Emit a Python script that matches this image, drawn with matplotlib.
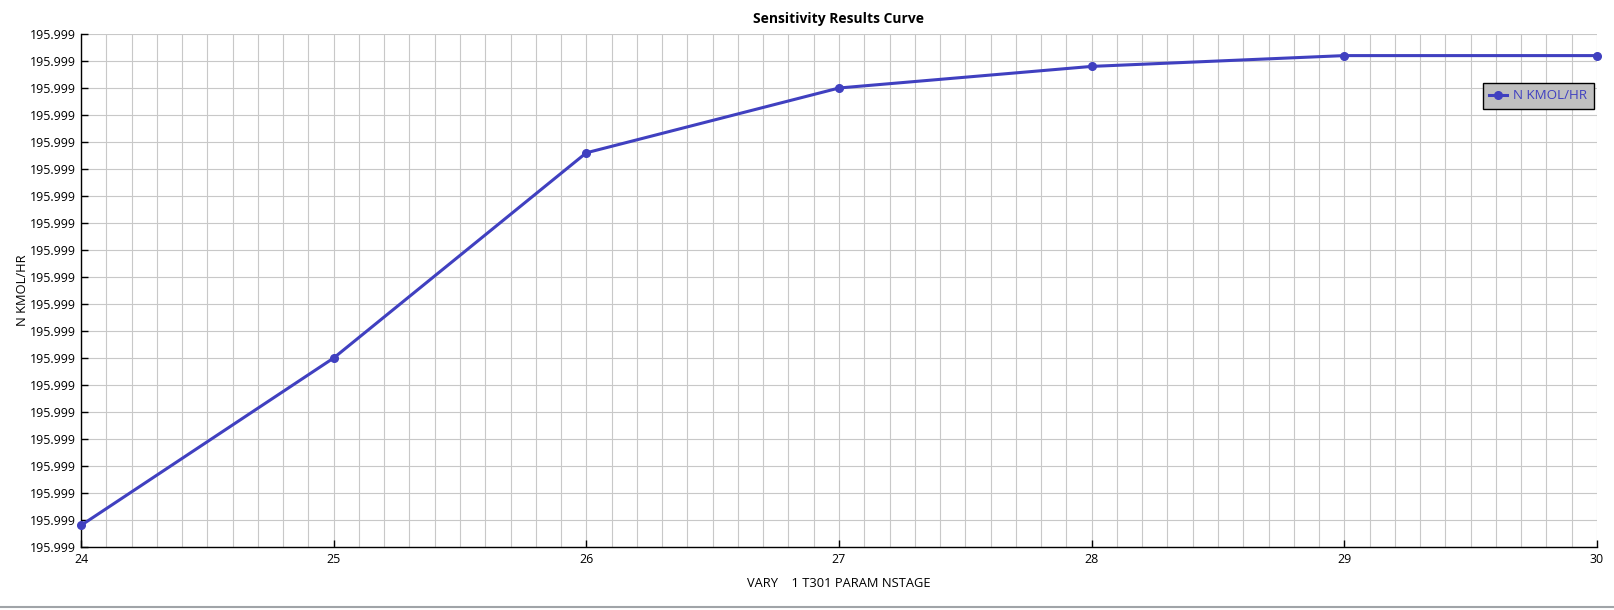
#! /usr/bin/env python3

import matplotlib
matplotlib.use("Agg")
import matplotlib.pyplot as plt
from matplotlib.lines import Line2D
from matplotlib.ticker import FormatStrFormatter, MultipleLocator

"""
Données lues sur la courbe.
"""

nstage = [24, 25, 26, 27, 28, 29, 30]
flow   = [195.999008, 195.999070, 195.999146, 195.999170,
          195.999178, 195.999182, 195.999182]   # en kmol/h

ymin, ymax, ystep = 195.99900, 195.99919, 0.00001

title  = "Sensitivity Results Curve"
xlabel = "VARY    1 T301 PARAM NSTAGE"
ylabel = "N KMOL/HR"
label  = "N KMOL/HR"

blue = "#4040c0"
grid = "#c8c8c8"

plt.rcParams["font.family"] = ["Open Sans", "DejaVu Sans"]

fig = plt.figure(figsize = (16.15, 6.10), dpi = 100)
ax = fig.add_axes([81 / 1615, 63 / 610, 1516 / 1615, 513 / 610])

ax.plot(nstage, flow, "-o", color = blue, lw = 2.2, ms = 5.5, label = label,
        clip_on = False, zorder = 3)

ax.set_xlim(nstage[0], nstage[-1])
ax.set_ylim(ymin, ymax)
ax.xaxis.set_major_locator(MultipleLocator(1))
ax.xaxis.set_minor_locator(MultipleLocator(0.1))
ax.yaxis.set_major_locator(MultipleLocator(ystep))
ax.yaxis.set_major_formatter(FormatStrFormatter("%.3f"))

ax.grid(which = "both", color = grid, lw = 0.8)
ax.set_axisbelow(True)
for side in ("top", "right"):
    ax.spines[side].set_visible(False)
for side in ("left", "bottom"):
    ax.spines[side].set_linewidth(1.0)

ax.tick_params(which = "major", direction = "in", length = 5, width = 1,
               labelsize = 8.9, pad = 4)
ax.tick_params(which = "minor", length = 0)

ax.set_title(title, fontsize = 10, fontweight = "bold", pad = 8)
ax.set_xlabel(xlabel, fontsize = 9.3, labelpad = 8)
ax.set_ylabel(ylabel, fontsize = 9.3, labelpad = 0)

leg = ax.legend(loc = "upper right", bbox_to_anchor = (0.998, 0.905),
                borderaxespad = 0, fancybox = False, framealpha = 1,
                facecolor = "#c0c0c0", edgecolor = "black", fontsize = 9.6,
                labelcolor = blue, handlelength = 1.3, handletextpad = 0.5,
                borderpad = 0.5)
leg.get_frame().set_linewidth(1.0)

# bord gris de la fenêtre
fig.add_artist(Line2D([0, 1], [3 / 610, 3 / 610], color = "#a0a4a8", lw = 1.5))

fig.savefig("out.png", dpi = 100)
